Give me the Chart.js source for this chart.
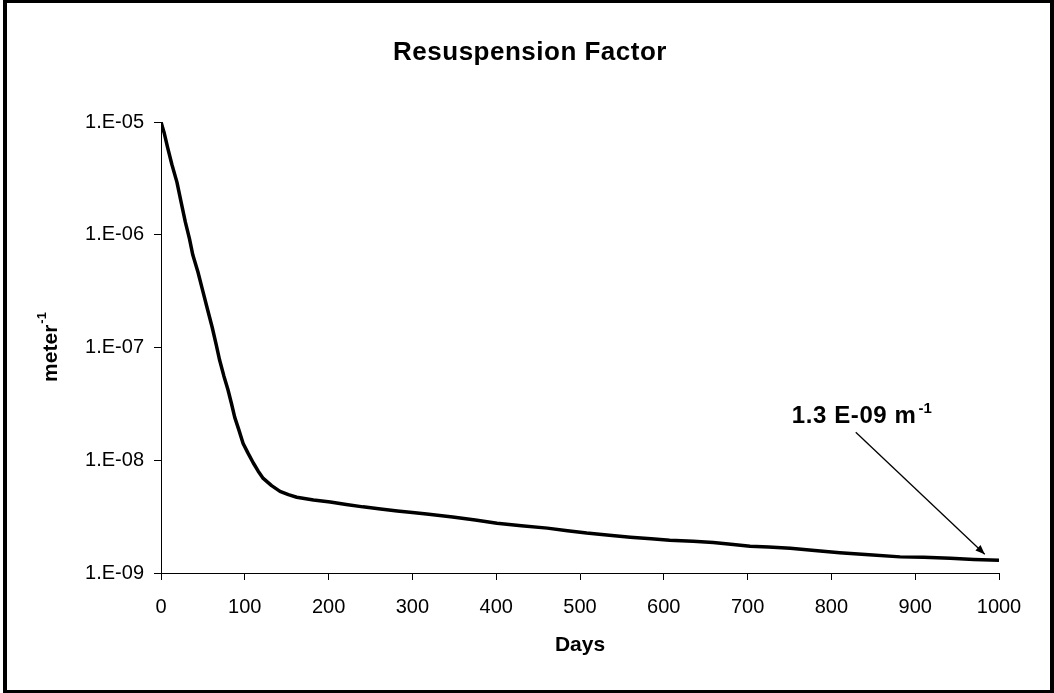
<!DOCTYPE html>
<html>
<head>
<meta charset="utf-8">
<script src="https://cdn.jsdelivr.net/npm/chart.js@4/dist/chart.umd.min.js"></script>
<style>
  html, body { margin: 0; padding: 0; background: #fff; }
  #wrap { width: 1054px; height: 693px; position: relative; }
</style>
</head>
<body>
<div id="wrap"><canvas id="c" width="1054" height="693"></canvas></div>
<script>
// ---- data ----
const days = [0, 4, 8, 13, 19, 24, 29, 34, 38, 44, 49, 55, 61, 66, 70, 75, 80, 84, 88, 93, 98, 104, 110, 116, 122, 132, 142, 152, 162, 182, 202, 221, 241, 262, 282, 300, 317, 348, 375, 401, 430, 461, 485, 508, 535, 560, 585, 607, 635, 659, 680, 703, 725, 751, 780, 810, 845, 882, 910, 942, 970, 1000];
const factor = [1.0e-5, 7.9e-6, 5.9e-6, 4.2e-6, 2.93e-6, 1.95e-6, 1.30e-6, 9.2e-7, 6.6e-7, 4.7e-7, 3.36e-7, 2.25e-7, 1.52e-7, 1.05e-7, 7.7e-8, 5.6e-8, 4.2e-8, 3.2e-8, 2.4e-8, 1.85e-8, 1.41e-8, 1.15e-8, 9.5e-9, 8.0e-9, 6.9e-9, 5.95e-9, 5.3e-9, 4.95e-9, 4.7e-9, 4.45e-9, 4.26e-9, 4.05e-9, 3.86e-9, 3.7e-9, 3.55e-9, 3.44e-9, 3.33e-9, 3.14e-9, 2.95e-9, 2.76e-9, 2.63e-9, 2.50e-9, 2.37e-9, 2.26e-9, 2.16e-9, 2.08e-9, 2.01e-9, 1.95e-9, 1.91e-9, 1.86e-9, 1.80e-9, 1.73e-9, 1.70e-9, 1.66e-9, 1.58e-9, 1.51e-9, 1.45e-9, 1.39e-9, 1.38e-9, 1.35e-9, 1.32e-9, 1.30e-9];
const yTickValues = [1e-9, 1e-8, 1e-7, 1e-6, 1e-5];
const yTickLabels = ['1.E-09', '1.E-08', '1.E-07', '1.E-06', '1.E-05'];
const xTickValues = [0, 100, 200, 300, 400, 500, 600, 700, 800, 900, 1000];
const xTickLabels = ['0', '100', '200', '300', '400', '500', '600', '700', '800', '900', '1000'];
const titleText = 'Resuspension Factor';
const xTitleText = 'Days';
const yTitleText = 'meter';
const yTitleSup = '-1';
const noteText = '1.3 E-09 m';
const noteSup = '-1';

const FONT = '"Liberation Sans", Arial, Helvetica, sans-serif';

const decor = {
  id: 'decor',
  beforeDraw(chart) {
    const ctx = chart.ctx;
    ctx.save();
    ctx.fillStyle = '#fff';
    ctx.fillRect(0, 0, chart.width, chart.height);
    ctx.restore();
  },
  afterDraw(chart) {
    const ctx = chart.ctx;
    const ca = chart.chartArea;
    const xs = chart.scales.x, ys = chart.scales.y;
    ctx.save();
    // outer frame
    ctx.fillStyle = '#000';
    ctx.fillRect(3, 0, 4, 693);
    ctx.fillRect(3, 0, 1051, 3);
    ctx.fillRect(1050, 0, 4, 693);
    ctx.fillRect(3, 690, 1051, 3);

    // chart title
    ctx.save();
    ctx.fillStyle = '#000';
    ctx.font = 'bold 26px ' + FONT;
    ctx.letterSpacing = '0.5px';
    ctx.textAlign = 'center';
    ctx.textBaseline = 'alphabetic';
    ctx.fillText(titleText, 530, 60);
    ctx.restore();

    // y axis title with superscript (rotated)
    ctx.save();
    ctx.translate(50, (ca.top + ca.bottom) / 2);
    ctx.rotate(-Math.PI / 2);
    ctx.fillStyle = '#000';
    ctx.textBaseline = 'alphabetic';
    ctx.font = 'bold 21px ' + FONT;
    const w1 = ctx.measureText(yTitleText).width;
    ctx.font = 'bold 13px ' + FONT;
    const w2 = ctx.measureText(yTitleSup).width;
    const start = -(w1 + w2) / 2;
    ctx.font = 'bold 21px ' + FONT;
    ctx.textAlign = 'left';
    ctx.fillText(yTitleText, start, 7);
    ctx.font = 'bold 13px ' + FONT;
    ctx.fillText(yTitleSup, start + w1 + 1, -4);
    ctx.restore();

    // annotation arrow pointing at the last value
    const lastX = xs.getPixelForValue(days[days.length - 1] - 17);
    const lastY = ys.getPixelForValue(factor[factor.length - 1]) - 6;
    const sx = lastX - 129, sy = lastY - 122;
    ctx.strokeStyle = '#000';
    ctx.lineWidth = 1.3;
    ctx.beginPath();
    ctx.moveTo(sx, sy);
    ctx.lineTo(lastX, lastY);
    ctx.stroke();
    const ang = Math.atan2(lastY - sy, lastX - sx);
    const hl = 10, hw = 0.38;
    ctx.fillStyle = '#000';
    ctx.beginPath();
    ctx.moveTo(lastX, lastY);
    ctx.lineTo(lastX - hl * Math.cos(ang - hw), lastY - hl * Math.sin(ang - hw));
    ctx.lineTo(lastX - hl * Math.cos(ang + hw), lastY - hl * Math.sin(ang + hw));
    ctx.closePath();
    ctx.fill();

    // annotation text
    ctx.textAlign = 'left';
    ctx.textBaseline = 'alphabetic';
    ctx.font = 'bold 24px ' + FONT;
    ctx.letterSpacing = '0.6px';
    const tx = sx - 64, ty = sy - 9;
    ctx.fillText(noteText, tx, ty);
    const nw = ctx.measureText(noteText).width;
    ctx.font = 'bold 15px ' + FONT;
    ctx.letterSpacing = '0px';
    ctx.fillText(noteSup, tx + nw + 2, ty - 10);
    ctx.restore();
  }
};

new Chart(document.getElementById('c'), {
  type: 'line',
  data: {
    datasets: [{
      data: days.map((d, i) => ({ x: d, y: factor[i] })),
      borderColor: '#000',
      borderWidth: 3.5,
      pointRadius: 0,
      tension: 0,
      borderJoinStyle: 'round',
      fill: false
    }]
  },
  options: {
    responsive: false,
    animation: false,
    devicePixelRatio: 1,
    layout: { padding: { left: 0, right: 55, top: 122, bottom: 0 } },
    plugins: {
      legend: { display: false },
      tooltip: { enabled: false },
      title: { display: false }
    },
    scales: {
      x: {
        type: 'linear',
        min: 0, max: 1000,
        afterBuildTicks(scale) { scale.ticks = xTickValues.map(v => ({ value: v })); },
        afterFit(scale) { scale.height = 120; },
        grid: { drawOnChartArea: false, drawTicks: true, tickLength: 7, color: '#000', lineWidth: 1 },
        border: { display: true, color: '#000', width: 1 },
        ticks: {
          color: '#000', font: { family: FONT, size: 20 }, padding: 15, maxRotation: 0,
          callback(v) { const i = xTickValues.indexOf(v); return i >= 0 ? xTickLabels[i] : ''; }
        },
        title: {
          display: true, text: xTitleText, color: '#000',
          font: { family: FONT, size: 21, weight: 'bold', lineHeight: 1.2 },
          padding: { top: 0, bottom: 35 }
        }
      },
      y: {
        type: 'logarithmic',
        min: 1e-9, max: 1e-5,
        afterBuildTicks(scale) { scale.ticks = yTickValues.map(v => ({ value: v })); },
        afterFit(scale) { scale.width = 161; },
        grid: { drawOnChartArea: false, drawTicks: true, tickLength: 7, color: '#000', lineWidth: 1 },
        border: { display: true, color: '#000', width: 1 },
        ticks: {
          color: '#000', font: { family: FONT, size: 20 }, padding: 10,
          callback(v) { const i = yTickValues.indexOf(v); return i >= 0 ? yTickLabels[i] : ''; }
        }
      }
    }
  },
  plugins: [decor]
});
</script>
</body>
</html>
